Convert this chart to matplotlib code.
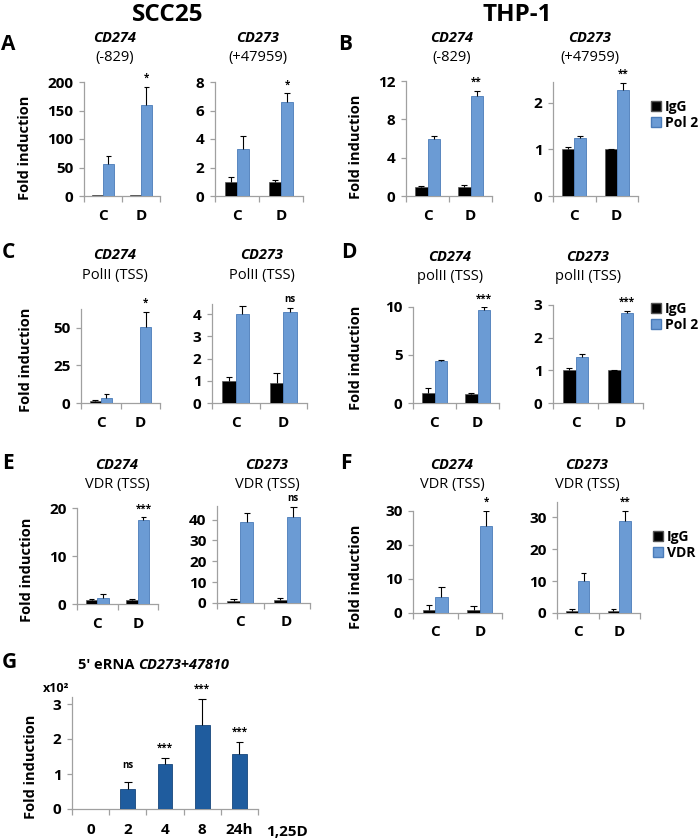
import matplotlib
matplotlib.use('Agg')
import matplotlib.pyplot as plt
from matplotlib.patches import Patch
import numpy as np

plt.rcParams['font.family'] = ['Open Sans', 'DejaVu Sans']
plt.rcParams['font.weight'] = 'bold'

# ---------------- data ----------------
categories = ['C', 'D']

# A: SCC25 Pol 2 at enhancers
a_cd274_igg = [1.0, 1.0]
a_cd274_igg_err = [0.0, 0.0]
a_cd274_pol = [56, 160]
a_cd274_pol_err = [14, 32]
a_cd274_sig = '*'
a_cd273_igg = [1.0, 1.0]
a_cd273_igg_err = [0.3, 0.1]
a_cd273_pol = [3.3, 6.6]
a_cd273_pol_err = [0.9, 0.6]
a_cd273_sig = '*'

# B: THP-1 Pol 2 at enhancers
b_cd274_igg = [0.9, 0.9]
b_cd274_igg_err = [0.15, 0.2]
b_cd274_pol = [6.0, 10.4]
b_cd274_pol_err = [0.3, 0.6]
b_cd274_sig = '**'
b_cd273_igg = [1.0, 1.0]
b_cd273_igg_err = [0.05, 0.02]
b_cd273_pol = [1.25, 2.28]
b_cd273_pol_err = [0.05, 0.15]
b_cd273_sig = '**'

# C: SCC25 PolII (TSS)
c_cd274_igg = [1.0, 0.3]
c_cd274_igg_err = [1.0, 0.0]
c_cd274_pol = [3.3, 50.5]
c_cd274_pol_err = [2.7, 10]
c_cd274_sig = '*'
c_cd273_igg = [1.0, 0.92]
c_cd273_igg_err = [0.15, 0.45]
c_cd273_pol = [4.0, 4.08]
c_cd273_pol_err = [0.35, 0.18]
c_cd273_sig = 'ns'

# D: THP-1 polII (TSS)
d_cd274_igg = [1.0, 0.95]
d_cd274_igg_err = [0.55, 0.05]
d_cd274_pol = [4.4, 9.7]
d_cd274_pol_err = [0.05, 0.25]
d_cd274_sig = '***'
d_cd273_igg = [1.0, 1.0]
d_cd273_igg_err = [0.06, 0.02]
d_cd273_pol = [1.4, 2.75]
d_cd273_pol_err = [0.1, 0.08]
d_cd273_sig = '***'

# E: SCC25 VDR (TSS)
e_cd274_igg = [0.8, 0.8]
e_cd274_igg_err = [0.3, 0.2]
e_cd274_vdr = [1.2, 17.5]
e_cd274_vdr_err = [0.8, 0.6]
e_cd274_sig = '***'
e_cd273_igg = [1.0, 1.2]
e_cd273_igg_err = [0.8, 1.2]
e_cd273_vdr = [39, 41]
e_cd273_vdr_err = [4, 5]
e_cd273_sig = 'ns'

# F: THP-1 VDR (TSS)
f_cd274_igg = [0.8, 0.8]
f_cd274_igg_err = [1.5, 1.3]
f_cd274_vdr = [4.6, 25.7]
f_cd274_vdr_err = [3.0, 4.3]
f_cd274_sig = '*'
f_cd273_igg = [0.7, 0.7]
f_cd273_igg_err = [0.6, 0.6]
f_cd273_vdr = [9.9, 28.9]
f_cd273_vdr_err = [2.7, 3.0]
f_cd273_sig = '**'

# G: 5' eRNA time course (x10^2)
g_times = ['0', '2', '4', '8', '24h']
g_values = [0.01, 0.58, 1.28, 2.40, 1.57]
g_err = [0.0, 0.20, 0.17, 0.75, 0.35]
g_sig = ['', 'ns', '***', '***', '***']

# ---------------- styling ----------------
W, H = 700, 840
fig = plt.figure(figsize=(7, 8.4), dpi=100)

BLUE = '#6b9bd4'
BLUE_EDGE = '#4a7bb8'
DARK = '#1f5c9e'
DARK_EDGE = '#17477c'
AXC = '#a0a0a0'
TICK_FS = 11


def make_ax(L, R, T, B):
    ax = fig.add_axes([L / W, 1 - B / H, (R - L) / W, (B - T) / H])
    for s in ('top', 'right'):
        ax.spines[s].set_visible(False)
    for s in ('left', 'bottom'):
        ax.spines[s].set_color(AXC)
        ax.spines[s].set_linewidth(0.9)
    ax.tick_params(axis='y', direction='out', length=3.5, width=0.9,
                   color=AXC, labelsize=TICK_FS, pad=4)
    return ax


def upper_err(ax, x, vals, errs, half):
    x = np.asarray(x, float)
    v = np.asarray(vals, float)
    e = np.asarray(errs, float)
    m = e > 0
    ax.vlines(x[m], v[m], v[m] + e[m], color='black', lw=0.8, zorder=4)
    ax.hlines(v[m] + e[m], x[m] - half, x[m] + half, color='black',
              lw=0.8, zorder=4)


def grouped(ax, igg, igg_err, sig_vals, sig_err, sig, ymax, ticks):
    x = np.arange(len(categories))
    w = 0.28
    ax.bar(x - w / 2, igg, w, color='black', edgecolor='#555555',
           linewidth=0.5, zorder=3)
    ax.bar(x + w / 2, sig_vals, w, color=BLUE, edgecolor=BLUE_EDGE,
           linewidth=0.6, zorder=3)
    upper_err(ax, x - w / 2, igg, igg_err, 0.07)
    upper_err(ax, x + w / 2, sig_vals, sig_err, 0.07)
    ax.set_xlim(-0.5, len(categories) - 0.5)
    ax.set_ylim(0, ymax)
    ax.set_yticks(ticks)
    ax.set_xticks(x)
    ax.set_xticklabels(categories, fontsize=TICK_FS, fontweight='bold')
    ax.tick_params(axis='x', which='major', length=0, pad=9)
    ax.set_xticks(np.arange(len(categories) + 1) - 0.5, minor=True)
    ax.tick_params(axis='x', which='minor', direction='out', length=4,
                   width=0.9, color=AXC)
    top = sig_vals[-1] + sig_err[-1]
    ax.annotate(sig, xy=(x[-1] + w / 2, top), xytext=(0, 2),
                textcoords='offset points', ha='center', va='bottom',
                fontsize=7, fontweight='bold', annotation_clip=False)


def subtitle(xc, y1, gene, sub):
    fig.text(xc / W, 1 - y1 / H, gene, ha='center', va='center',
             fontsize=10.5, fontweight='bold', style='italic')
    fig.text(xc / W, 1 - (y1 + 20) / H, sub, ha='center', va='center',
             fontsize=10.5, fontweight='normal')


def ylab(xc, yc):
    fig.text(xc / W, 1 - yc / H, 'Fold induction', rotation=90,
             ha='center', va='center', fontsize=10.5, fontweight='bold')


def letter(x, y, s):
    fig.text(x / W, 1 - y / H, s, ha='left', va='center', fontsize=15,
             fontweight='bold')


def legend(x, y, second):
    handles = [Patch(facecolor='black', edgecolor='#555555'),
               Patch(facecolor=BLUE, edgecolor=BLUE_EDGE)]
    fig.legend(handles, ['IgG', second], loc='upper left',
               bbox_to_anchor=(x / W, 1 - y / H), frameon=False,
               handlelength=0.7, handleheight=0.7, handletextpad=0.3,
               labelspacing=0.15, borderpad=0, borderaxespad=0,
               prop={'size': 10, 'weight': 'bold'})


# headers
fig.text(168 / W, 1 - 15 / H, 'SCC25', ha='center', va='center',
         fontsize=17.5, fontweight='bold')
fig.text(517 / W, 1 - 15 / H, 'THP-1', ha='center', va='center',
         fontsize=17.5, fontweight='bold')

# ---- row A/B ----
letter(1, 44, 'A')
letter(338, 44, 'B')
subtitle(115, 38, 'CD274', '(-829)')
subtitle(258, 38, 'CD273', '(+47959)')
subtitle(452, 38, 'CD274', '(-829)')
subtitle(590, 38, 'CD273', '(+47959)')

ax = make_ax(84, 160, 82, 196)
grouped(ax, a_cd274_igg, a_cd274_igg_err, a_cd274_pol, a_cd274_pol_err,
        a_cd274_sig, 200, [0, 50, 100, 150, 200])
ax = make_ax(215, 303, 82, 196)
grouped(ax, a_cd273_igg, a_cd273_igg_err, a_cd273_pol, a_cd273_pol_err,
        a_cd273_sig, 8, [0, 2, 4, 6, 8])
ax = make_ax(406, 492, 81, 196)
grouped(ax, b_cd274_igg, b_cd274_igg_err, b_cd274_pol, b_cd274_pol_err,
        b_cd274_sig, 12, [0, 4, 8, 12])
ax = make_ax(553, 638, 82, 196)
grouped(ax, b_cd273_igg, b_cd273_igg_err, b_cd273_pol, b_cd273_pol_err,
        b_cd273_sig, 2.45, [0, 1, 2])
ylab(25, 148)
ylab(356, 147)
legend(651, 100, 'Pol 2')

# ---- row C/D ----
letter(2, 252, 'C')
letter(341, 252, 'D')
subtitle(115, 255, 'CD274', 'PolII (TSS)')
subtitle(262, 255, 'CD273', 'PolII (TSS)')
subtitle(450, 257, 'CD274', 'polII (TSS)')
subtitle(588, 257, 'CD273', 'polII (TSS)')

ax = make_ax(81, 160, 309, 403)
grouped(ax, c_cd274_igg, c_cd274_igg_err, c_cd274_pol, c_cd274_pol_err,
        c_cd274_sig, 62.5, [0, 25, 50])
ax = make_ax(212, 307, 304, 403)
grouped(ax, c_cd273_igg, c_cd273_igg_err, c_cd273_pol, c_cd273_pol_err,
        c_cd273_sig, 4.45, [0, 1, 2, 3, 4])
ax = make_ax(413, 499, 307, 403)
grouped(ax, d_cd274_igg, d_cd274_igg_err, d_cd274_pol, d_cd274_pol_err,
        d_cd274_sig, 10, [0, 5, 10])
ax = make_ax(553, 643, 305, 403)
grouped(ax, d_cd273_igg, d_cd273_igg_err, d_cd273_pol, d_cd273_pol_err,
        d_cd273_sig, 3, [0, 1, 2, 3])
ylab(26, 360)
ylab(356, 358)
legend(651, 302, 'Pol 2')

# ---- row E/F ----
letter(2, 463, 'E')
letter(340, 463, 'F')
subtitle(117, 465, 'CD274', 'VDR (TSS)')
subtitle(267, 465, 'CD273', 'VDR (TSS)')
subtitle(452, 465, 'CD274', 'VDR (TSS)')
subtitle(587, 465, 'CD273', 'VDR (TSS)')

ax = make_ax(77, 158, 508, 604)
grouped(ax, e_cd274_igg, e_cd274_igg_err, e_cd274_vdr, e_cd274_vdr_err,
        e_cd274_sig, 20, [0, 10, 20])
ax = make_ax(217, 310, 506, 603)
grouped(ax, e_cd273_igg, e_cd273_igg_err, e_cd273_vdr, e_cd273_vdr_err,
        e_cd273_sig, 46.5, [0, 10, 20, 30, 40])
ax = make_ax(413, 502, 511, 613)
grouped(ax, f_cd274_igg, f_cd274_igg_err, f_cd274_vdr, f_cd274_vdr_err,
        f_cd274_sig, 30, [0, 10, 20, 30])
ax = make_ax(557, 640, 502, 613)
grouped(ax, f_cd273_igg, f_cd273_igg_err, f_cd273_vdr, f_cd273_vdr_err,
        f_cd273_sig, 34.7, [0, 10, 20, 30])
ylab(27, 570)
ylab(356, 577)
legend(653, 530, 'VDR')

# ---- row G ----
letter(2, 663, 'G')
ax = make_ax(72, 258, 697, 809)
xg = np.arange(len(g_times))
ax.bar(xg, g_values, 0.4, color=DARK, edgecolor=DARK_EDGE, linewidth=0.6,
       zorder=3)
upper_err(ax, xg, g_values, g_err, 0.1)
ax.set_xlim(-0.48, len(g_times) - 0.52)
ax.set_ylim(0, 3.2)
ax.set_yticks([0, 1, 2, 3])
ax.set_xticks(xg)
ax.set_xticklabels(g_times, fontsize=TICK_FS, fontweight='bold')
ax.tick_params(axis='x', which='major', length=0, pad=10)
ax.set_xticks(np.arange(len(g_times) + 1) - 0.5, minor=True)
ax.tick_params(axis='x', which='minor', direction='out', length=4,
               width=0.9, color=AXC)
for xi, v, e, s in zip(xg, g_values, g_err, g_sig):
    if s:
        ax.annotate(s, xy=(xi, v + e), xytext=(0, 3 if s != 'ns' else 8),
                    textcoords='offset points', ha='center', va='bottom',
                    fontsize=7, fontweight='bold', annotation_clip=False)
ylab(31, 767)
fig.text(43 / W, 1 - 688 / H, 'x10²', ha='left', va='center', fontsize=9,
         fontweight='bold')
fig.text(266 / W, 1 - 832 / H, '1,25D', ha='left', va='center',
         fontsize=TICK_FS, fontweight='bold')

renderer = fig.canvas.get_renderer()
t1 = fig.text(78 / W, 1 - 665 / H, "5' eRNA ", ha='left', va='center',
              fontsize=10.5, fontweight='bold')
bb = t1.get_window_extent(renderer)
fig.text(bb.x1 / W, 1 - 665 / H, 'CD273+47810', ha='left', va='center',
         fontsize=10.5, fontweight='bold', style='italic')

fig.savefig('out.png', dpi=100)
